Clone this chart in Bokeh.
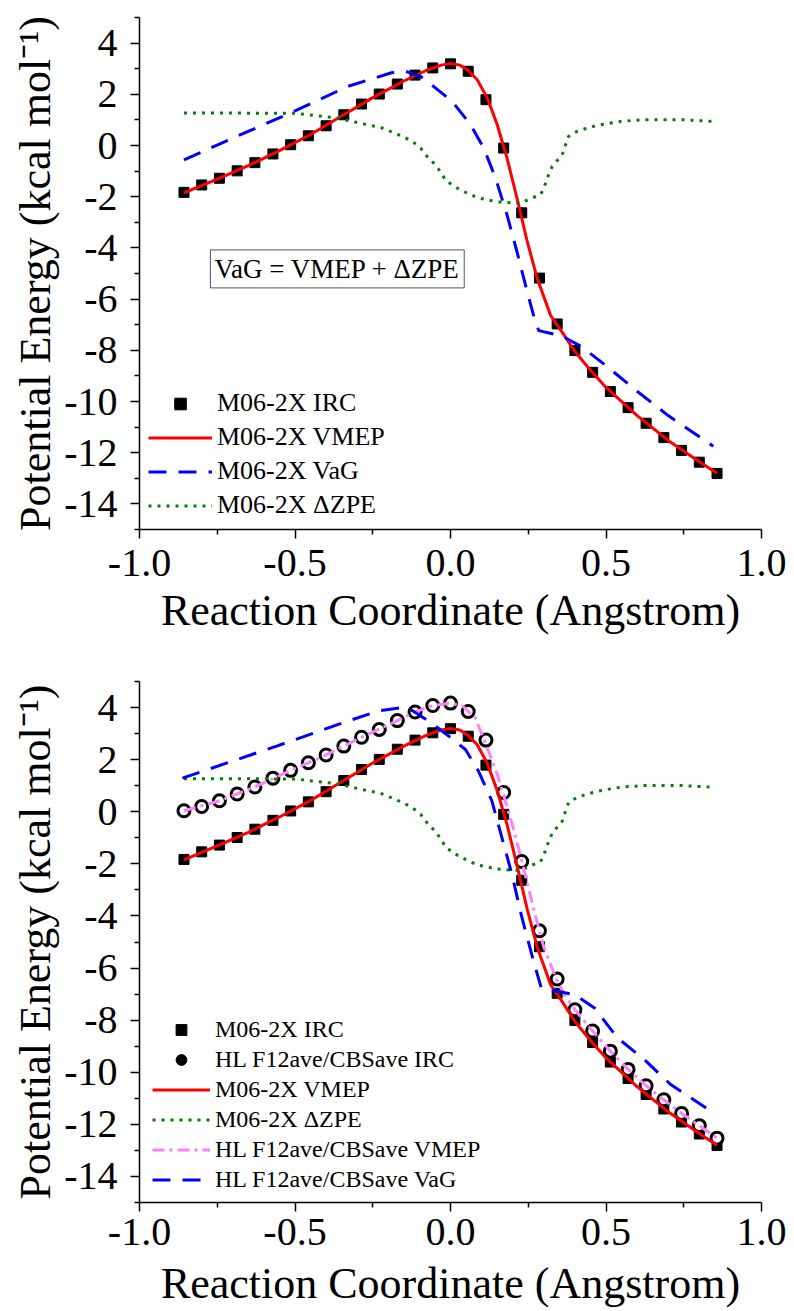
from bokeh.plotting import figure
from bokeh.models import (Range1d, FixedTicker, Legend, LegendItem, Label,
                          CustomJSTickFormatter)
from bokeh.layouts import column
from bokeh.embed import file_html
from bokeh.resources import INLINE

FONT = "Liberation Serif"

# ---------------- data ----------------
x_irc = [-0.857, -0.800, -0.743, -0.686, -0.629, -0.571, -0.514, -0.457, -0.400,
         -0.343, -0.286, -0.229, -0.171, -0.114, -0.057, 0.000, 0.057, 0.114,
         0.171, 0.229, 0.286, 0.343, 0.400, 0.457, 0.514, 0.571, 0.629, 0.686,
         0.743, 0.800, 0.857]
m06_irc = [-1.83, -1.54, -1.28, -0.99, -0.67, -0.33, 0.03, 0.38, 0.77, 1.20, 1.62,
           2.01, 2.40, 2.75, 3.03, 3.19, 2.90, 1.79, -0.10, -2.63, -5.18, -6.97,
           -8.01, -8.86, -9.61, -10.24, -10.85, -11.41, -11.91, -12.37, -12.81]
hl_irc = [0.04, 0.20, 0.42, 0.68, 0.95, 1.29, 1.59, 1.88, 2.18, 2.52, 2.86, 3.16,
          3.50, 3.83, 4.08, 4.17, 3.85, 2.75, 0.74, -1.91, -4.57, -6.42, -7.60,
          -8.42, -9.19, -9.89, -10.52, -11.06, -11.58, -12.05, -12.53]

x_vmep = [-0.857, -0.75, -0.65, -0.55, -0.45, -0.35, -0.25, -0.15, -0.08, -0.03,
          0.0, 0.03, 0.055, 0.086, 0.118, 0.150, 0.182, 0.214, 0.247, 0.279,
          0.322, 0.359, 0.40, 0.45, 0.50, 0.60, 0.70, 0.80, 0.857]
m06_vmep = [-1.85, -1.31, -0.79, -0.20, 0.43, 1.15, 1.87, 2.52, 2.92, 3.14, 3.20,
            3.14, 2.95, 2.57, 1.86, 0.82, -0.50, -2.07, -3.76, -5.20, -6.64,
            -7.29, -8.05, -8.78, -9.45, -10.55, -11.52, -12.35, -12.80]

x_vag = [-0.857, -0.70, -0.50, -0.33, -0.19, -0.145, -0.096, -0.075, 0.005,
         0.064, 0.107, 0.145, 0.182, 0.214, 0.247, 0.273, 0.284, 0.36, 0.42,
         0.50, 0.60, 0.70, 0.845]
m06_vag = [-0.56, 0.29, 1.35, 2.31, 2.84, 2.90, 2.70, 2.51, 1.73, 0.82, -0.10,
           -1.28, -2.72, -4.16, -5.73, -6.90, -7.23, -7.45, -7.85, -8.60, -9.60,
           -10.55, -11.75]

x_zpe = [-0.857, -0.50, -0.364, -0.268, -0.225, -0.155, -0.123, -0.096, -0.075,
         -0.054, -0.032, -0.016, 0.005, 0.032, 0.086, 0.150, 0.225, 0.257, 0.289,
         0.300, 0.311, 0.327, 0.359, 0.370, 0.380, 0.407, 0.439, 0.482, 0.546,
         0.621, 0.739, 0.846]
m06_zpe = [1.27, 1.26, 1.07, 0.81, 0.71, 0.36, 0.16, -0.10, -0.43, -0.69, -1.02,
           -1.35, -1.54, -1.74, -2.04, -2.20, -2.26, -2.07, -1.93, -1.67, -1.28,
           -0.82, -0.37, 0.03, 0.36, 0.55, 0.68, 0.81, 0.94, 1.01, 1.01, 0.94]

x_hl_vmep = [-0.857, -0.743, -0.629, -0.514, -0.400, -0.286, -0.171, -0.114,
             -0.057, 0.0, 0.04, 0.08, 0.122, 0.15, 0.176, 0.20, 0.218, 0.245,
             0.271, 0.30, 0.343, 0.37, 0.40, 0.457, 0.514, 0.571, 0.629, 0.686,
             0.743, 0.80, 0.857]
hl_vmep = [0.04, 0.42, 0.95, 1.59, 2.18, 2.86, 3.50, 3.83, 4.08, 4.17, 4.05, 3.60,
           2.33, 1.45, 0.42, -0.55, -1.36, -2.65, -3.90, -5.20, -6.50, -7.10,
           -7.60, -8.42, -9.19, -9.89, -10.52, -11.06, -11.58, -12.05, -12.53]

x_hl_vag = [-0.862, -0.559, -0.35, -0.229, -0.165, -0.122, -0.069, -0.005, 0.048,
            0.09, 0.133, 0.165, 0.197, 0.229, 0.266, 0.292, 0.399, 0.463, 0.537,
            0.622, 0.707, 0.835]
hl_vag = [1.29, 2.52, 3.40, 3.88, 3.98, 3.88, 3.47, 2.90, 2.39, 1.56, 0.42, -0.98,
          -2.38, -4.03, -5.69, -6.77, -7.02, -7.53, -8.68, -9.50, -10.46, -11.48]

x_ticks = [-1.0, -0.5, 0.0, 0.5, 1.0]
x_minor = [-0.75, -0.25, 0.25, 0.75]
y_ticks = [-14, -12, -10, -8, -6, -4, -2, 0, 2, 4]
y_minor = [-15, -13, -11, -9, -7, -5, -3, -1, 1, 3, 5]

RED, BLUE, GREEN, PINK = "#FF0000", "#0000FF", "#008000", "#FF80FF"
DASH, DOT, DASHDOT = "18 12", "3 6", "12 5 3 5"


def make_fig(height, top, bottom, frame_w, right):
    p = figure(width=139 + frame_w + right, height=height,
               x_range=Range1d(-1, 1), y_range=Range1d(-15, 5),
               output_backend="svg", toolbar_location=None,
               min_border_left=139, min_border_right=right,
               min_border_top=top, min_border_bottom=bottom)
    p.outline_line_color = None
    p.xgrid.visible = False
    p.ygrid.visible = False
    p.xaxis.ticker = FixedTicker(ticks=x_ticks, minor_ticks=x_minor)
    p.yaxis.ticker = FixedTicker(ticks=y_ticks, minor_ticks=y_minor)
    p.xaxis.formatter = CustomJSTickFormatter(code="return tick.toFixed(1);")
    p.yaxis.formatter = CustomJSTickFormatter(code="return tick.toFixed(0);")
    for ax in (p.xaxis[0], p.yaxis[0]):
        ax.axis_line_color = "black"
        ax.axis_line_width = 1.5
        ax.major_tick_line_width = 1.5
        ax.minor_tick_line_width = 1.5
        ax.major_tick_out = 9
        ax.major_tick_in = 0
        ax.minor_tick_out = 5
        ax.minor_tick_in = 0
        ax.major_label_text_font = FONT
        ax.major_label_text_font_size = "40px"
        ax.major_label_text_color = "black"
        ax.axis_label_text_font = FONT
        ax.axis_label_text_font_size = "44px"
        ax.axis_label_text_font_style = "normal"
        ax.axis_label_text_color = "black"
    p.xaxis.axis_label = "Reaction Coordinate (Angstrom)"
    p.yaxis.axis_label = "Potential Energy (kcal mol\u207b\u00b9)"
    p.yaxis.major_label_standoff = 13
    p.yaxis.axis_label_standoff = 1
    return p


# ---------------- top panel ----------------
p1 = make_fig(658, 17, 129, 622, 30)
p1.xaxis.major_label_standoff = 11
p1.xaxis.axis_label_standoff = 7

s1 = p1.scatter(x_irc, m06_irc, marker="square", size=10, color="black")
r1 = p1.line(x_vmep, m06_vmep, color=RED, line_width=3)
b1 = p1.line(x_vag, m06_vag, color=BLUE, line_width=3, line_dash=DASH)
g1 = p1.line(x_zpe, m06_zpe, color=GREEN, line_width=3, line_dash=DOT)

leg1 = Legend(items=[LegendItem(label="M06-2X IRC", renderers=[s1]),
                     LegendItem(label="M06-2X VMEP", renderers=[r1]),
                     LegendItem(label="M06-2X VaG", renderers=[b1]),
                     LegendItem(label="M06-2X \u0394ZPE", renderers=[g1])],
              location=(9, 9), padding=0, margin=0, spacing=4,
              glyph_width=64, glyph_height=29, label_height=29,
              label_standoff=5, label_text_font=FONT,
              label_text_font_size="26px", label_text_color="black",
              border_line_color=None, background_fill_alpha=0)
p1.add_layout(leg1)

p1.add_layout(Label(x=-0.772, y=-4.82, text="VaG = VMEP + \u0394ZPE",
                    text_font=FONT, text_font_size="27px", text_color="black",
                    text_baseline="middle", text_align="left",
                    border_line_color="#555555", border_line_width=1,
                    background_fill_color="white", padding=4))

# ---------------- bottom panel ----------------
p2 = make_fig(652, 23, 107, 626, 26)
p2.xaxis.major_label_standoff = 7
p2.xaxis.axis_label_standoff = 11

s2 = p2.scatter(x_irc, m06_irc, marker="square", size=10, color="black")
c2 = p2.scatter(x_irc, hl_irc, marker="circle", size=12, line_color="black",
                line_width=3, fill_color="white")
r2 = p2.line(x_vmep, m06_vmep, color=RED, line_width=3)
g2 = p2.line(x_zpe, m06_zpe, color=GREEN, line_width=3, line_dash=DOT)
k2 = p2.line(x_hl_vmep, hl_vmep, color=PINK, line_width=3, line_dash=DASHDOT)
b2 = p2.line(x_hl_vag, hl_vag, color=BLUE, line_width=3, line_dash=DASH)

# legend-only glyph for the filled circle (one point far outside the view)
c2_leg = p2.scatter([-9.0], [-99.0], marker="circle", size=11, color="black")

leg2 = Legend(items=[LegendItem(label="M06-2X IRC", renderers=[s2]),
                     LegendItem(label="HL F12ave/CBSave IRC", renderers=[c2_leg]),
                     LegendItem(label="M06-2X VMEP", renderers=[r2]),
                     LegendItem(label="M06-2X \u0394ZPE", renderers=[g2]),
                     LegendItem(label="HL F12ave/CBSave VMEP", renderers=[k2]),
                     LegendItem(label="HL F12ave/CBSave VaG", renderers=[b2])],
              location=(13, 9), padding=0, margin=0, spacing=3,
              glyph_width=58, glyph_height=27, label_height=27,
              label_standoff=5, label_text_font=FONT,
              label_text_font_size="24px", label_text_color="black",
              border_line_color=None, background_fill_alpha=0)
p2.add_layout(leg2)

layout = column(p1, p2, spacing=0)
open("out.html", "w").write(file_html(layout, INLINE))
